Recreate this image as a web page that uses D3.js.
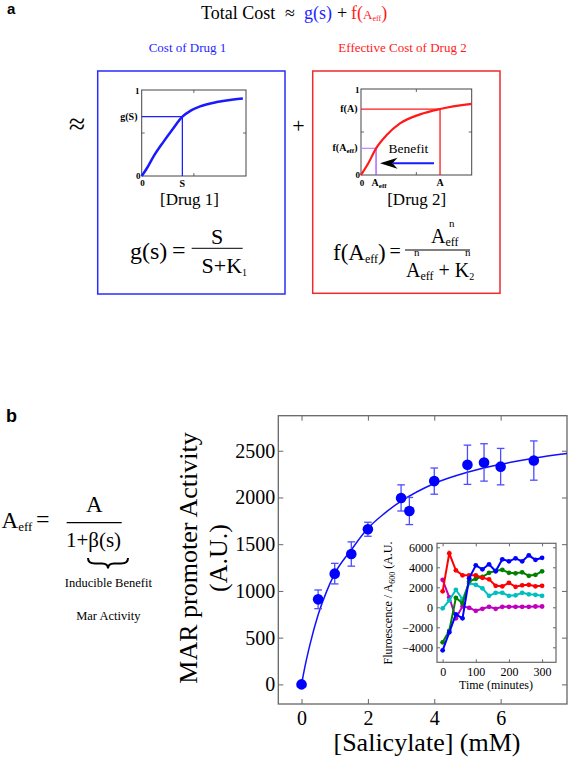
<!DOCTYPE html>
<html lang="en">
<head>
<meta charset="utf-8">
<script src="https://d3js.org/d3.v7.min.js"></script>
<style>
  body { margin: 0; background: #fff; }
  svg { display: block; }
  text { font-family: "Liberation Serif", "Times New Roman", serif; }
  text.panel { font-family: "Liberation Sans", Arial, sans-serif; font-weight: bold; }
</style>
</head>
<body>
<div id="plot"></div>
<script>
// panel a, cartoon curves (fraction of axis)
const drug1X = [0, 0.05, 0.11, 0.21, 0.30, 0.39, 0.47, 0.56, 0.72, 0.88, 0.97];
const drug1G = [0, 0.09, 0.22, 0.40, 0.55, 0.69, 0.76, 0.81, 0.86, 0.89, 0.90];
const drug2X = [0, 0.066, 0.136, 0.232, 0.352, 0.533, 0.714, 1];
const drug2F = [0, 0.136, 0.31, 0.465, 0.6, 0.705, 0.767, 0.826];

// panel b, MAR promoter activity vs salicylate
const salicylate  = [0, 0.5, 1, 1.5, 2, 3, 3.25, 4, 5, 5.5, 6, 7];
const marActivity = [0, 910, 1185, 1395, 1660, 1995, 1855, 2175, 2350, 2375, 2330, 2395];
const marError    = [0, 100, 110, 130, 75, 140, 145, 140, 210, 200, 195, 210];
const fitX = [0, 0.1, 0.25, 0.5, 0.75, 1, 1.5, 2, 2.5, 3, 4, 5, 6, 7, 8];
const fitY = [0, 185, 420, 745, 990, 1185, 1440, 1670, 1830, 1960, 2150, 2270, 2355, 2420, 2470];
const mainXTicks = [0, 2, 4, 6];
const mainYTicks = [0, 500, 1000, 1500, 2000, 2500];

// inset time courses
const insetTime    = [0, 20, 40, 60, 80, 100, 120, 140, 160, 180, 200, 220, 240, 260, 280, 300];
const insetBlue    = [-4300, -2500, -700, -1100, 2900, 4200, 3800, 4300, 3600, 4800, 4600, 4900, 4600, 5200, 4750, 4950];
const insetRed     = [1600, 5400, 3700, 3200, 3200, 3200, 2950, 2800, 2150, 2100, 2450, 2050, 2200, 2250, 2100, 2150];
const insetGreen   = [-3500, -2350, 950, 400, 2600, 2850, 3050, 3450, 3650, 3750, 3450, 3400, 3500, 3150, 3250, 3600];
const insetCyan    = [-100, 700, 1750, 800, 2400, 2250, 1900, 1150, 1450, 1450, 1150, 1200, 1450, 1300, 1250, 1150];
const insetMagenta = [2750, 1000, -1100, 100, -50, -350, -150, 50, -150, 50, 50, 50, 50, 50, 80, 80];
const insetXTicks = [0, 100, 200, 300];
const insetYTicks = [-4000, -2000, 0, 2000, 4000, 6000];

const svg = d3.select('#plot').append('svg')
    .attr('width', 568)
    .attr('height', 759);

// text helper: pieces = [text, size, baselineOffset, colour, x]
function rich(x, y, pieces, anchor, color) {
  const t = svg.append('text')
      .attr('x', x).attr('y', y)
      .attr('text-anchor', anchor || 'start')
      .attr('fill', color || 'black');
  let shift = 0;
  pieces.forEach(p => {
    const off = p[2] || 0;
    const s = t.append('tspan').attr('font-size', p[1]).attr('dy', off - shift).text(p[0]);
    if (p[3]) s.attr('fill', p[3]);
    if (p[4] !== undefined) s.attr('x', p[4]);
    shift = off;
  });
  return t;
}

// ---------- panel a ----------
svg.append('text').attr('class', 'panel').attr('x', 7).attr('y', 13.5)
    .attr('font-size', 15).text('a');

const t0 = svg.append('text').attr('y', 19).attr('font-size', 18);
t0.append('tspan').attr('x', 201).text('Total Cost');
t0.append('tspan').attr('x', 285).text('≈');
t0.append('tspan').attr('x', 304).attr('fill', '#1f1fff').text('g(s)');
t0.append('tspan').attr('x', 337).text('+');
t0.append('tspan').attr('x', 351).attr('fill', '#ff1a1a').text('f(');
t0.append('tspan').attr('fill', '#ff1a1a').attr('font-size', 13).text('A');
t0.append('tspan').attr('fill', '#ff1a1a').attr('font-size', 8).attr('dy', 2).text('eff');
t0.append('tspan').attr('fill', '#ff1a1a').attr('dy', -2).text(')');

svg.append('text').attr('x', 187.5).attr('y', 52).attr('font-size', 13)
    .attr('text-anchor', 'middle').attr('fill', '#1f1fff').text('Cost of Drug 1');
svg.append('text').attr('x', 402.5).attr('y', 52).attr('font-size', 13)
    .attr('text-anchor', 'middle').attr('fill', '#ff1a1a').text('Effective Cost of Drug 2');

svg.append('rect').attr('x', 97.7).attr('y', 71).attr('width', 187.3).attr('height', 223)
    .attr('fill', 'none').attr('stroke', '#2b2bff').attr('stroke-width', 1.5);
svg.append('rect').attr('x', 312.7).attr('y', 71).attr('width', 187.3).attr('height', 222.3)
    .attr('fill', 'none').attr('stroke', '#ee2a2a').attr('stroke-width', 1.5);

svg.append('text').attr('x', 77).attr('y', 134).attr('font-size', 30)
    .attr('text-anchor', 'middle').text('≈');
svg.append('text').attr('x', 298.5).attr('y', 133).attr('font-size', 22)
    .attr('text-anchor', 'middle').text('+');

function miniPlot(left, top, right, bottom) {
  const x = d3.scaleLinear().domain([0, 1]).range([left, right]);
  const y = d3.scaleLinear().domain([0, 1]).range([bottom, top]);
  const g = svg.append('g');
  g.append('rect').attr('x', left).attr('y', top)
      .attr('width', right - left).attr('height', bottom - top)
      .attr('fill', 'none').attr('stroke', '#444').attr('stroke-width', 1);
  // little inner ticks at mid-axis
  [[x(0.5), bottom, x(0.5), bottom - 3], [x(0.5), top, x(0.5), top + 3],
   [left, y(0.5), left + 3, y(0.5)], [right, y(0.5), right - 3, y(0.5)]].forEach(d => {
    g.append('line').attr('x1', d[0]).attr('y1', d[1]).attr('x2', d[2]).attr('y2', d[3])
        .attr('stroke', '#444').attr('stroke-width', 0.8);
  });
  return {x, y, g};
}

// drug 1 cartoon
const p1 = miniPlot(141.7, 90, 246, 176);
const s1 = 5;
p1.g.append('line').attr('x1', p1.x(0)).attr('x2', p1.x(drug1X[s1]))
    .attr('y1', p1.y(drug1G[s1])).attr('y2', p1.y(drug1G[s1]))
    .attr('stroke', '#1f1fff').attr('stroke-width', 1.3);
p1.g.append('line').attr('x1', p1.x(drug1X[s1])).attr('x2', p1.x(drug1X[s1]))
    .attr('y1', p1.y(drug1G[s1])).attr('y2', p1.y(0))
    .attr('stroke', '#1f1fff').attr('stroke-width', 1.3);
p1.g.append('path')
    .attr('d', d3.line().x(d => p1.x(d)).y((d, i) => p1.y(drug1G[i])).curve(d3.curveMonotoneX)(drug1X))
    .attr('fill', 'none').attr('stroke', '#1a1aff').attr('stroke-width', 2.5);

svg.append('text').attr('x', 139.5).attr('y', 93.5).attr('font-size', 9).attr('font-weight', 'bold')
    .attr('text-anchor', 'end').text('1');
svg.append('text').attr('x', 137.5).attr('y', 120).attr('font-size', 10).attr('font-weight', 'bold')
    .attr('text-anchor', 'end').text('g(S)');
svg.append('text').attr('x', 140.5).attr('y', 178.5).attr('font-size', 9).attr('font-weight', 'bold')
    .attr('text-anchor', 'end').text('0');
svg.append('text').attr('x', 142.5).attr('y', 186).attr('font-size', 9).attr('font-weight', 'bold')
    .attr('text-anchor', 'middle').text('0');
svg.append('text').attr('x', p1.x(drug1X[s1])).attr('y', 187).attr('font-size', 10).attr('font-weight', 'bold')
    .attr('text-anchor', 'middle').text('S');
svg.append('text').attr('x', 189.5).attr('y', 205).attr('font-size', 17)
    .attr('text-anchor', 'middle').text('[Drug 1]');

// g(s) = S / (S+K1)
svg.append('text').attr('x', 130).attr('y', 258.5).attr('font-size', 24).text('g(s)');
svg.append('text').attr('x', 172).attr('y', 257.5).attr('font-size', 24).text('=');
svg.append('line').attr('x1', 191.7).attr('x2', 242.7).attr('y1', 248.3).attr('y2', 248.3)
    .attr('stroke', 'black').attr('stroke-width', 1);
svg.append('text').attr('x', 217).attr('y', 244).attr('font-size', 22)
    .attr('text-anchor', 'middle').text('S');
rich(201.5, 272.5, [['S+K', 22], ['1', 10, 3]]);

// drug 2 cartoon
const p2 = miniPlot(361, 89, 471.7, 175);
const iEff = 2, iA = 6;
p2.g.append('line').attr('x1', p2.x(0)).attr('x2', p2.x(drug2X[iA]))
    .attr('y1', p2.y(drug2F[iA])).attr('y2', p2.y(drug2F[iA]))
    .attr('stroke', '#ff1a1a').attr('stroke-width', 1.3);
p2.g.append('line').attr('x1', p2.x(drug2X[iA])).attr('x2', p2.x(drug2X[iA]))
    .attr('y1', p2.y(drug2F[iA])).attr('y2', p2.y(0))
    .attr('stroke', '#ff1a1a').attr('stroke-width', 1.3);
p2.g.append('line').attr('x1', p2.x(0)).attr('x2', p2.x(drug2X[iEff]))
    .attr('y1', p2.y(drug2F[iEff])).attr('y2', p2.y(drug2F[iEff]))
    .attr('stroke', '#c58cff').attr('stroke-width', 1.3);
p2.g.append('line').attr('x1', p2.x(drug2X[iEff])).attr('x2', p2.x(drug2X[iEff]))
    .attr('y1', p2.y(drug2F[iEff])).attr('y2', p2.y(0))
    .attr('stroke', '#a64dff').attr('stroke-width', 1.3);
p2.g.append('path')
    .attr('d', d3.line().x(d => p2.x(d)).y((d, i) => p2.y(drug2F[i])).curve(d3.curveMonotoneX)(drug2X))
    .attr('fill', 'none').attr('stroke', '#ff1a1a').attr('stroke-width', 2.2);

// benefit arrow
p2.g.append('line').attr('x1', 434).attr('x2', 393).attr('y1', 163.3).attr('y2', 163.3)
    .attr('stroke', '#1a1aff').attr('stroke-width', 2);
p2.g.append('path').attr('d', 'M380,163.3 L397.5,157.8 L392.5,163.3 L397.5,168.8 Z').attr('fill', 'black');
svg.append('text').attr('x', 388.5).attr('y', 152.5).attr('font-size', 13.5).text('Benefit');

svg.append('text').attr('x', 359.5).attr('y', 92.5).attr('font-size', 9).attr('font-weight', 'bold')
    .attr('text-anchor', 'end').text('1');
svg.append('text').attr('x', 357.5).attr('y', 112).attr('font-size', 10).attr('font-weight', 'bold')
    .attr('text-anchor', 'end').text('f(A)');
rich(357.5, 150.5, [['f(A', 10], ['eff', 7, 2], [')', 10, 0]], 'end').attr('font-weight', 'bold');
svg.append('text').attr('x', 360).attr('y', 177.5).attr('font-size', 9).attr('font-weight', 'bold')
    .attr('text-anchor', 'end').text('0');
svg.append('text').attr('x', 362).attr('y', 185.5).attr('font-size', 9).attr('font-weight', 'bold')
    .attr('text-anchor', 'middle').text('0');
rich(p2.x(drug2X[iEff]) + 3, 186, [['A', 10], ['eff', 7, 2]], 'middle').attr('font-weight', 'bold');
svg.append('text').attr('x', p2.x(drug2X[iA])).attr('y', 186).attr('font-size', 10).attr('font-weight', 'bold')
    .attr('text-anchor', 'middle').text('A');
svg.append('text').attr('x', 416.7).attr('y', 205).attr('font-size', 17)
    .attr('text-anchor', 'middle').text('[Drug 2]');

// f(Aeff) = Aeff^n / (Aeff^n + K2^n)
rich(333, 260, [['f(A', 23], ['eff', 12, 3], [')', 23, 0]]);
svg.append('text').attr('x', 389.5).attr('y', 258).attr('font-size', 20).text('=');
svg.append('line').attr('x1', 405).attr('x2', 470).attr('y1', 250).attr('y2', 250)
    .attr('stroke', 'black').attr('stroke-width', 1);
rich(431, 243, [['A', 20], ['eff', 12, 3], ['n', 11, -16, null, 449]]);
rich(406, 276.5, [['A', 20], ['n', 11, -20.5, null, 414], ['eff', 12, 3, null, 420.4],
                  [' + K', 20, 0], ['2', 10, 3], ['n', 11, -20.5, null, 465]]);

// ---------- panel b ----------
svg.append('text').attr('class', 'panel').attr('x', 6).attr('y', 421.5)
    .attr('font-size', 18).text('b');

// Aeff = A / (1+β(s))
rich(1.5, 528, [['A', 23], ['eff', 13, 3]]);
svg.append('text').attr('x', 36).attr('y', 527).attr('font-size', 24).text('=');
svg.append('line').attr('x1', 66.7).attr('x2', 121.7).attr('y1', 522.7).attr('y2', 522.7)
    .attr('stroke', 'black').attr('stroke-width', 1.2);
svg.append('text').attr('x', 94.3).attr('y', 511.7).attr('font-size', 23)
    .attr('text-anchor', 'middle').text('A');
svg.append('text').attr('x', 93.5).attr('y', 546.7).attr('font-size', 21)
    .attr('text-anchor', 'middle').text('1+β(s)');
svg.append('path')
    .attr('d', 'M88,558 Q88,563.5 95,563.5 L102,563.5 Q108,563.5 108,568.5 Q108,563.5 114,563.5 L121,563.5 Q128,563.5 128,558')
    .attr('fill', 'none').attr('stroke', 'black').attr('stroke-width', 2);
svg.append('text').attr('x', 108.3).attr('y', 586.7).attr('font-size', 12.5)
    .attr('text-anchor', 'middle').text('Inducible Benefit');
svg.append('text').attr('x', 108.3).attr('y', 620).attr('font-size', 12.5)
    .attr('text-anchor', 'middle').text('Mar Activity');

// main axes
const mx = d3.scaleLinear().domain([-0.7, 8]).range([278.3, 567]);
const my = d3.scaleLinear().domain([-210, 2875]).range([704, 415.7]);
const frame = '#666';
const intFmt = d3.format('d');

svg.append('rect').attr('x', 278.3).attr('y', 415.7).attr('width', 567 - 278.3).attr('height', 704 - 415.7)
    .attr('fill', 'white').attr('stroke', frame).attr('stroke-width', 1.3);

function styleAxis(g, size) {
  g.select('.domain').remove();
  g.selectAll('.tick line').attr('stroke', frame);
  g.selectAll('.tick text').attr('fill', 'black').attr('font-size', size);
}

svg.append('g').attr('transform', 'translate(278.3,0)')
    .call(d3.axisLeft(my).tickValues(mainYTicks).tickFormat(intFmt).tickSize(-5).tickPadding(3))
    .call(g => styleAxis(g, 20));
svg.append('g').attr('transform', 'translate(567,0)')
    .call(d3.axisRight(my).tickValues(mainYTicks).tickSize(-5).tickFormat(''))
    .call(g => styleAxis(g, 20));
svg.append('g').attr('transform', 'translate(0,704)')
    .call(d3.axisBottom(mx).tickValues(mainXTicks).tickFormat(intFmt).tickSize(-5).tickPadding(7))
    .call(g => styleAxis(g, 20));
svg.append('g').attr('transform', 'translate(0,415.7)')
    .call(d3.axisTop(mx).tickValues(mainXTicks).tickSize(-5).tickFormat(''))
    .call(g => styleAxis(g, 20));

svg.append('text').attr('transform', 'translate(197,558) rotate(-90)')
    .attr('font-size', 26).attr('text-anchor', 'middle').text('MAR promoter Activity');
svg.append('text').attr('transform', 'translate(227,558) rotate(-90)')
    .attr('font-size', 26).attr('text-anchor', 'middle').text('(A.U.)');
svg.append('text').attr('x', 427).attr('y', 751).attr('font-size', 26)
    .attr('text-anchor', 'middle').text('[Salicylate] (mM)');

// fitted curve
svg.append('path')
    .attr('d', d3.line().x(d => mx(d)).y((d, i) => my(fitY[i])).curve(d3.curveMonotoneX)(fitX))
    .attr('fill', 'none').attr('stroke', '#1010ff').attr('stroke-width', 1.5);

// error bars + points
const eb = svg.append('g').attr('stroke', '#4d4dff').attr('stroke-width', 1.3);
salicylate.forEach((s, i) => {
  if (!marError[i]) return;
  const cx = mx(s), y1 = my(marActivity[i] - marError[i]), y2 = my(marActivity[i] + marError[i]);
  eb.append('line').attr('x1', cx).attr('x2', cx).attr('y1', y1).attr('y2', y2);
  eb.append('line').attr('x1', cx - 3.8).attr('x2', cx + 3.8).attr('y1', y1).attr('y2', y1);
  eb.append('line').attr('x1', cx - 3.8).attr('x2', cx + 3.8).attr('y1', y2).attr('y2', y2);
});
svg.append('g').selectAll('circle')
  .data(salicylate)
  .join('circle')
    .attr('cx', d => mx(d))
    .attr('cy', (d, i) => my(marActivity[i]))
    .attr('r', 5.3)
    .attr('fill', '#0000ff');

// inset
const ix = d3.scaleLinear().domain([-17, 342]).range([437, 556]);
const iy = d3.scaleLinear().domain([-5500, 6400]).range([662.3, 543.3]);

svg.append('rect').attr('x', 437).attr('y', 543.3).attr('width', 119).attr('height', 119)
    .attr('fill', 'white').attr('stroke', frame).attr('stroke-width', 1.2);
svg.append('g').attr('transform', 'translate(437,0)')
    .call(d3.axisLeft(iy).tickValues(insetYTicks).tickFormat(intFmt).tickSize(-3).tickPadding(4))
    .call(g => styleAxis(g, 12));
svg.append('g').attr('transform', 'translate(556,0)')
    .call(d3.axisRight(iy).tickValues(insetYTicks).tickSize(-3).tickFormat(''))
    .call(g => styleAxis(g, 12));
svg.append('g').attr('transform', 'translate(0,662.3)')
    .call(d3.axisBottom(ix).tickValues(insetXTicks).tickFormat(intFmt).tickSize(-3).tickPadding(5))
    .call(g => styleAxis(g, 12));
svg.append('g').attr('transform', 'translate(0,543.3)')
    .call(d3.axisTop(ix).tickValues(insetXTicks).tickSize(-3).tickFormat(''))
    .call(g => styleAxis(g, 12));

svg.append('text').attr('x', 496).attr('y', 688.5).attr('font-size', 12)
    .attr('text-anchor', 'middle').text('Time (minutes)');
const yl = svg.append('text').attr('transform', 'translate(392,603) rotate(-90)')
    .attr('text-anchor', 'middle').attr('font-size', 12);
yl.append('tspan').text('Fluroescence / A');
yl.append('tspan').attr('font-size', 8).attr('dy', 3).text('600');
yl.append('tspan').attr('dy', -3).text(' (A.U.');

const series = [
  [insetMagenta, '#bf00bf'],
  [insetCyan, '#00bfbf'],
  [insetGreen, '#008000'],
  [insetRed, '#ff0000'],
  [insetBlue, '#0000ff']
];
const insetLine = d3.line().x(d => ix(d[0])).y(d => iy(d[1]));
series.forEach(([vals, col]) => {
  const pts = insetTime.map((t, i) => [t, vals[i]]);
  svg.append('path').attr('d', insetLine(pts))
      .attr('fill', 'none').attr('stroke', col).attr('stroke-width', 2);
  svg.append('g').selectAll('circle')
    .data(pts)
    .join('circle')
      .attr('cx', d => ix(d[0]))
      .attr('cy', d => iy(d[1]))
      .attr('r', 2.4)
      .attr('fill', col);
});
</script>
</body>
</html>
